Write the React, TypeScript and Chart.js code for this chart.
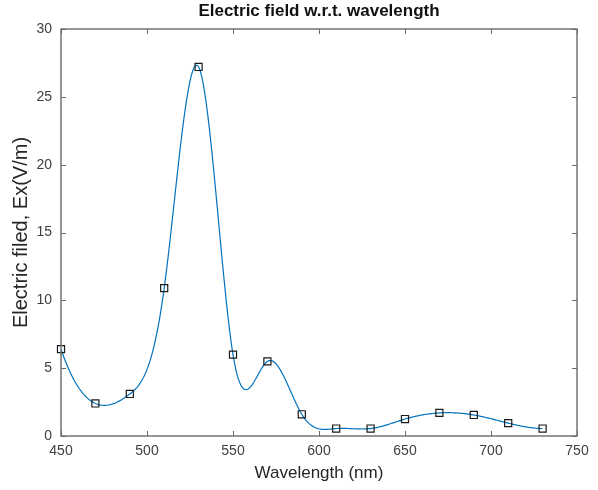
import React, { useEffect, useRef } from 'react';
import { Chart, registerables } from 'chart.js';

Chart.register(...registerables);

// ---- data ----
const wavelengths = [450, 470, 490, 510, 530, 550, 570, 590, 610, 630, 650, 670, 690, 710, 730];
const fieldValues = [6.4, 2.4, 3.1, 10.9, 27.2, 6.0, 5.5, 1.6, 0.55, 0.55, 1.25, 1.7, 1.55, 0.95, 0.55];
const xTicks = [450, 500, 550, 600, 650, 700, 750];
const yTicks = [0, 5, 10, 15, 20, 25, 30];
const titleText = 'Electric field w.r.t. wavelength';
const xLabel = 'Wavelength (nm)';
const yLabel = 'Electric filed, Ex(V/m)';

const FONT = "'Liberation Sans', Arial, Helvetica, sans-serif";

// not-a-knot cubic spline second derivatives (like MATLAB spline)
function splineSecondDerivs(xs: number[], ys: number[]): number[] {
  const n = xs.length;
  const h: number[] = [];
  for (let i = 0; i < n - 1; i++) h.push(xs[i + 1] - xs[i]);
  const A: number[][] = [];
  const b: number[] = [];
  for (let i = 0; i < n; i++) { A.push(new Array(n).fill(0)); b.push(0); }
  A[0][0] = h[1]; A[0][1] = -(h[0] + h[1]); A[0][2] = h[0];
  for (let i = 1; i < n - 1; i++) {
    A[i][i - 1] = h[i - 1];
    A[i][i] = 2 * (h[i - 1] + h[i]);
    A[i][i + 1] = h[i];
    b[i] = 6 * ((ys[i + 1] - ys[i]) / h[i] - (ys[i] - ys[i - 1]) / h[i - 1]);
  }
  A[n - 1][n - 3] = h[n - 2]; A[n - 1][n - 2] = -(h[n - 3] + h[n - 2]); A[n - 1][n - 1] = h[n - 3];
  for (let c = 0; c < n; c++) {
    let p = c;
    for (let r = c + 1; r < n; r++) if (Math.abs(A[r][c]) > Math.abs(A[p][c])) p = r;
    [A[c], A[p]] = [A[p], A[c]];
    [b[c], b[p]] = [b[p], b[c]];
    for (let r = c + 1; r < n; r++) {
      const f = A[r][c] / A[c][c];
      if (f === 0) continue;
      for (let k = c; k < n; k++) A[r][k] -= f * A[c][k];
      b[r] -= f * b[c];
    }
  }
  const M = new Array(n).fill(0);
  for (let r = n - 1; r >= 0; r--) {
    let s = b[r];
    for (let k = r + 1; k < n; k++) s -= A[r][k] * M[k];
    M[r] = s / A[r][r];
  }
  return M;
}

const splinePlugin = {
  id: 'splineLine',
  beforeDatasetsDraw(chart: any) {
    const { ctx, chartArea, scales } = chart;
    const xs: number[] = wavelengths;
    const ys: number[] = fieldValues;
    const M = splineSecondDerivs(xs, ys);
    ctx.save();
    ctx.beginPath();
    ctx.rect(chartArea.left, chartArea.top, chartArea.right - chartArea.left, chartArea.bottom - chartArea.top);
    ctx.clip();
    ctx.beginPath();
    let first = true;
    for (let i = 0; i < xs.length - 1; i++) {
      const x0 = xs[i], x1 = xs[i + 1], h = x1 - x0;
      const steps = 40;
      for (let k = 0; k <= steps; k++) {
        if (i > 0 && k === 0) continue;
        const xv = x0 + (h * k) / steps;
        const a = x1 - xv, bb = xv - x0;
        const yv = (M[i] * a * a * a) / (6 * h) + (M[i + 1] * bb * bb * bb) / (6 * h)
          + (ys[i] / h - (M[i] * h) / 6) * a + (ys[i + 1] / h - (M[i + 1] * h) / 6) * bb;
        const px = scales.x.getPixelForValue(xv);
        const py = scales.y.getPixelForValue(yv);
        if (first) { ctx.moveTo(px, py); first = false; } else ctx.lineTo(px, py);
      }
    }
    ctx.strokeStyle = '#0072BD';
    ctx.lineWidth = 1.2;
    ctx.stroke();
    ctx.restore();
  },
};

const boxPlugin = {
  id: 'matlabBox',
  afterDraw(chart: any) {
    const { ctx, chartArea, scales } = chart;
    const { left, right, top, bottom } = chartArea;
    ctx.save();
    ctx.strokeStyle = '#6a6a6a';
    ctx.lineWidth = 1.4;
    ctx.strokeRect(left, top, right - left, bottom - top);
    const tl = 5;
    ctx.beginPath();
    for (const v of xTicks) {
      const px = Math.round(scales.x.getPixelForValue(v)) + 0.5;
      ctx.moveTo(px, bottom); ctx.lineTo(px, bottom - tl);
      ctx.moveTo(px, top); ctx.lineTo(px, top + tl);
    }
    for (const v of yTicks) {
      const py = Math.round(scales.y.getPixelForValue(v)) + 0.5;
      ctx.moveTo(left, py); ctx.lineTo(left + tl, py);
      ctx.moveTo(right, py); ctx.lineTo(right - tl, py);
    }
    ctx.lineWidth = 1;
    ctx.stroke();
    ctx.restore();
  },
};

export default function App() {
  const ref = useRef<HTMLCanvasElement | null>(null);
  useEffect(() => {
    if (!ref.current) return;
    Chart.defaults.font.family = FONT;
    const chart = new Chart(ref.current, {
      type: 'scatter',
      data: {
        datasets: [
          {
            label: 'Ex',
            data: wavelengths.map((w, i) => ({ x: w, y: fieldValues[i] })),
            showLine: false,
            clip: false,
            pointStyle: 'rect',
            pointRadius: 5,
            pointBorderColor: '#1a1a1a',
            pointBackgroundColor: 'rgba(0,0,0,0)',
            pointBorderWidth: 1.2,
          },
        ],
      },
      options: {
        responsive: false,
        animation: false,
        layout: { padding: { left: 0, right: 21, top: 0, bottom: 0 } },
        plugins: {
          legend: { display: false },
          tooltip: { enabled: false },
          title: {
            display: true,
            text: titleText,
            fullSize: false,
            color: '#111111',
            font: { size: 17, weight: 'bold', family: FONT },
            padding: { top: 1, bottom: 7.6 },
          },
        },
        scales: {
          x: {
            type: 'linear',
            min: 450,
            max: 750,
            afterBuildTicks: (s: any) => { s.ticks = xTicks.map((v) => ({ value: v })); },
            afterFit: (s: any) => { s.height = 54; },
            grid: { display: false, drawTicks: false },
            border: { display: false },
            ticks: { color: '#404040', font: { size: 14, family: FONT }, padding: 7, maxRotation: 0, autoSkip: false },
            title: { display: true, text: xLabel, color: '#262626', font: { size: 17, family: FONT }, padding: { top: 0, bottom: 6 } },
          },
          y: {
            type: 'linear',
            min: 0,
            max: 30,
            afterBuildTicks: (s: any) => { s.ticks = yTicks.map((v) => ({ value: v })); },
            afterFit: (s: any) => { s.width = 61; },
            grid: { display: false, drawTicks: false },
            border: { display: false },
            ticks: { color: '#404040', font: { size: 14, family: FONT }, padding: 9 },
            title: { display: true, text: yLabel, color: '#262626', font: { size: 20, family: FONT }, padding: { top: 9, bottom: 0 } },
          },
        },
      },
      plugins: [splinePlugin, boxPlugin],
    } as any);
    return () => chart.destroy();
  }, []);
  return (
    <div style={{ position: 'absolute', left: 0, top: 0, width: 598, height: 490, background: '#fff' }}>
      <canvas ref={ref} width={598} height={490} style={{ display: 'block' }} />
    </div>
  );
}
